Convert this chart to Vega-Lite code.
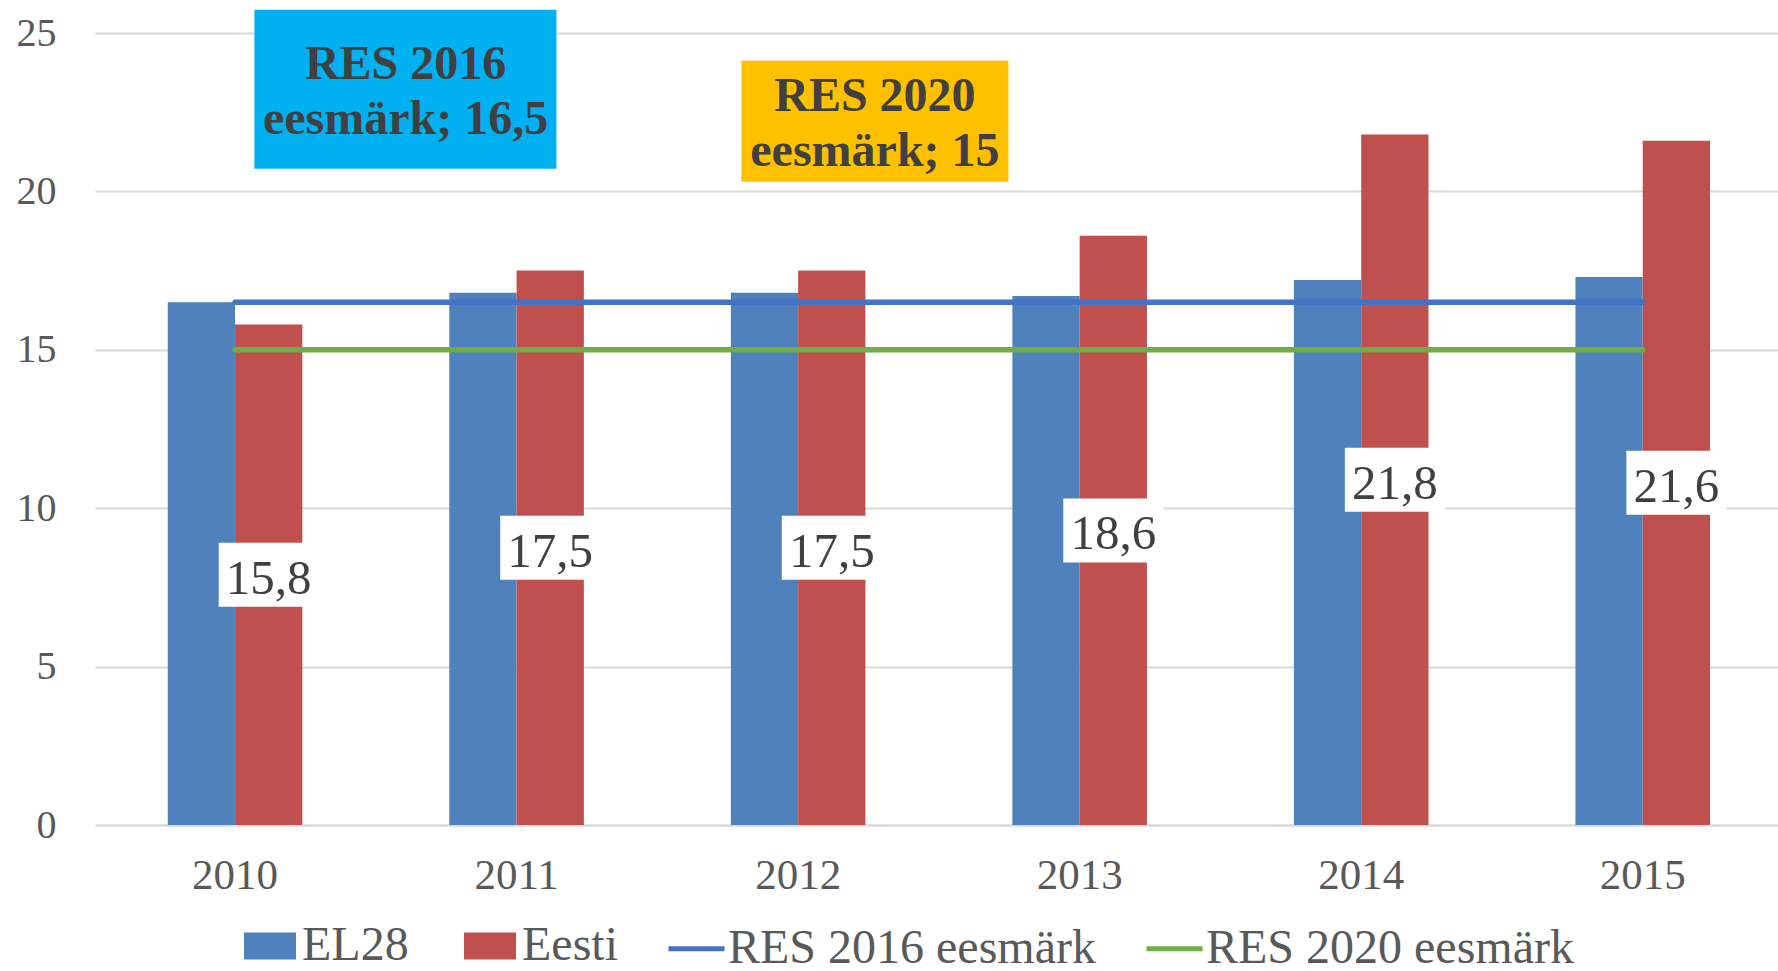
{
  "$schema": "https://vega.github.io/schema/vega-lite/v6.json",
  "width": 1683,
  "height": 792,
  "autosize": {"type": "none"},
  "padding": {"left": 95, "top": 33, "right": 0, "bottom": 146},
  "background": "#ffffff",
  "config": {
    "view": {"stroke": null},
    "font": "Liberation Serif"
  },
  "datasets": {
    "bars": [
      {"year": "2010", "series": "EL28", "value": 16.5, "label": "16,5"},
      {"year": "2010", "series": "Eesti", "value": 15.8, "label": "15,8"},
      {"year": "2011", "series": "EL28", "value": 16.8, "label": "16,8"},
      {"year": "2011", "series": "Eesti", "value": 17.5, "label": "17,5"},
      {"year": "2012", "series": "EL28", "value": 16.8, "label": "16,8"},
      {"year": "2012", "series": "Eesti", "value": 17.5, "label": "17,5"},
      {"year": "2013", "series": "EL28", "value": 16.7, "label": "16,7"},
      {"year": "2013", "series": "Eesti", "value": 18.6, "label": "18,6"},
      {"year": "2014", "series": "EL28", "value": 17.2, "label": "17,2"},
      {"year": "2014", "series": "Eesti", "value": 21.8, "label": "21,8"},
      {"year": "2015", "series": "EL28", "value": 17.3, "label": "17,3"},
      {"year": "2015", "series": "Eesti", "value": 21.6, "label": "21,6"}
    ],
    "targets": [
      {"year": "2010", "target": "RES 2016 eesmärk", "value": 16.5},
      {"year": "2011", "target": "RES 2016 eesmärk", "value": 16.5},
      {"year": "2012", "target": "RES 2016 eesmärk", "value": 16.5},
      {"year": "2013", "target": "RES 2016 eesmärk", "value": 16.5},
      {"year": "2014", "target": "RES 2016 eesmärk", "value": 16.5},
      {"year": "2015", "target": "RES 2016 eesmärk", "value": 16.5},
      {"year": "2010", "target": "RES 2020 eesmärk", "value": 15},
      {"year": "2011", "target": "RES 2020 eesmärk", "value": 15},
      {"year": "2012", "target": "RES 2020 eesmärk", "value": 15},
      {"year": "2013", "target": "RES 2020 eesmärk", "value": 15},
      {"year": "2014", "target": "RES 2020 eesmärk", "value": 15},
      {"year": "2015", "target": "RES 2020 eesmärk", "value": 15}
    ],
    "callouts": [
      {"year": "2011", "target": "RES 2016 eesmärk", "value": 16.5, "text": "RES 2016\neesmärk; 16,5"},
      {"year": "2012", "target": "RES 2020 eesmärk", "value": 15, "text": "RES 2020\neesmärk; 15"}
    ]
  },
  "resolve": {"scale": {"y": "independent"}},
  "encoding": {
    "x": {
      "field": "year",
      "type": "nominal",
      "title": null,
      "scale": {"paddingInner": 0.522, "paddingOuter": 0.25, "align": 0.517},
      "axis": {
        "labelAngle": 0,
        "labelFontSize": 43,
        "labelFont": "Liberation Serif",
        "labelColor": "#595959",
        "labelPadding": 29,
        "ticks": false,
        "domainColor": "#D9D9D9",
        "domainWidth": 2,
        "grid": false
      }
    }
  },
  "layer": [
    {
      "data": {"name": "bars"},
      "mark": {"type": "bar"},
      "encoding": {
        "y": {
          "field": "value",
          "type": "quantitative",
          "title": null,
          "scale": {"domain": [0, 25], "nice": false},
          "axis": {
            "values": [0, 5, 10, 15, 20, 25],
            "labelFontSize": 40,
            "labelFont": "Liberation Serif",
            "labelColor": "#595959",
            "labelPadding": 39,
            "ticks": false,
            "domain": false,
            "gridColor": "#D9D9D9",
            "gridWidth": 2
          }
        },
        "xOffset": {
          "field": "series",
          "type": "nominal",
          "scale": {"domain": ["EL28", "Eesti"], "paddingInner": 0, "paddingOuter": 0}
        },
        "fill": {
          "field": "series",
          "type": "nominal",
          "scale": {"domain": ["EL28", "Eesti"], "range": ["#4F81BD", "#C0504D"]},
          "legend": {
            "orient": "none",
            "legendX": 149,
            "legendY": 887,
            "direction": "horizontal",
            "title": null,
            "padding": 0,
            "symbolType": "M-1,-0.52H1V0.52H-1Z",
            "symbolSize": 2704,
            "symbolStrokeWidth": 0,
            "labelFontSize": 48,
            "labelFont": "Liberation Serif",
            "labelColor": "#595959",
            "labelOffset": 6,
            "labelLimit": 600,
            "columnPadding": 55
          }
        }
      }
    },
    {
      "data": {"name": "bars"},
      "transform": [{"filter": "datum.series === 'Eesti'"}],
      "mark": {"type": "point", "shape": "M-50,-32H50V32H-50Z", "size": 4, "filled": true, "fill": "#ffffff", "opacity": 1, "strokeWidth": 0},
      "encoding": {
        "xOffset": {"datum": "Eesti"},
        "y": {"field": "value", "type": "quantitative", "scale": {"domain": [0, 50], "nice": false}, "axis": null}
      }
    },
    {
      "data": {"name": "bars"},
      "transform": [{"filter": "datum.series === 'Eesti'"}],
      "mark": {"type": "text", "fontSize": 49, "font": "Liberation Serif", "color": "#404040", "align": "center", "baseline": "middle", "dy": 4},
      "encoding": {
        "xOffset": {"datum": "Eesti"},
        "y": {"field": "value", "type": "quantitative", "scale": {"domain": [0, 50], "nice": false}, "axis": null},
        "text": {"field": "label", "type": "nominal"}
      }
    },
    {
      "data": {"name": "targets"},
      "mark": {"type": "line", "strokeWidth": 5.5, "strokeCap": "round"},
      "encoding": {
        "y": {"field": "value", "type": "quantitative", "scale": {"domain": [0, 25], "nice": false}, "axis": null},
        "stroke": {
          "field": "target",
          "type": "nominal",
          "scale": {"domain": ["RES 2016 eesmärk", "RES 2020 eesmärk"], "range": ["#4472C4", "#70AD47"]},
          "legend": {
            "orient": "none",
            "legendX": 571,
            "legendY": 885,
            "direction": "horizontal",
            "title": null,
            "padding": 0,
            "symbolType": "stroke",
            "symbolSize": 3136,
            "symbolStrokeWidth": 5,
            "labelFontSize": 48,
            "labelFont": "Liberation Serif",
            "labelColor": "#595959",
            "labelOffset": 1,
            "labelLimit": 600,
            "columnPadding": 40
          }
        }
      }
    },
    {
      "data": {"name": "callouts"},
      "transform": [{"filter": "datum.target === 'RES 2016 eesmärk'"}],
      "mark": {"type": "point", "shape": "M-262.2,-292.6H39.8V-133.6H-262.2Z", "size": 4, "filled": true, "fill": "#00B0F0", "opacity": 1, "strokeWidth": 0},
      "encoding": {
        "y": {"field": "value", "type": "quantitative", "scale": {"domain": [0, 25], "nice": false}, "axis": null}
      }
    },
    {
      "data": {"name": "callouts"},
      "transform": [{"filter": "datum.target === 'RES 2016 eesmärk'"}],
      "mark": {"type": "text", "fontSize": 48, "fontWeight": "bold", "font": "Liberation Serif", "color": "#404040", "align": "center", "baseline": "middle", "lineBreak": "\n", "lineHeight": 55, "dx": -111, "dy": -237.1},
      "encoding": {
        "y": {"field": "value", "type": "quantitative", "scale": {"domain": [0, 25], "nice": false}, "axis": null},
        "text": {"field": "text", "type": "nominal"}
      }
    },
    {
      "data": {"name": "callouts"},
      "transform": [{"filter": "datum.target === 'RES 2020 eesmärk'"}],
      "mark": {"type": "point", "shape": "M-56.7,-289.1H210.3V-168.1H-56.7Z", "size": 4, "filled": true, "fill": "#FFC000", "opacity": 1, "strokeWidth": 0},
      "encoding": {
        "y": {"field": "value", "type": "quantitative", "scale": {"domain": [0, 25], "nice": false}, "axis": null}
      }
    },
    {
      "data": {"name": "callouts"},
      "transform": [{"filter": "datum.target === 'RES 2020 eesmärk'"}],
      "mark": {"type": "text", "fontSize": 48, "fontWeight": "bold", "font": "Liberation Serif", "color": "#404040", "align": "center", "baseline": "middle", "lineBreak": "\n", "lineHeight": 55, "dx": 76.8, "dy": -252.8},
      "encoding": {
        "y": {"field": "value", "type": "quantitative", "scale": {"domain": [0, 25], "nice": false}, "axis": null},
        "text": {"field": "text", "type": "nominal"}
      }
    }
  ]
}
